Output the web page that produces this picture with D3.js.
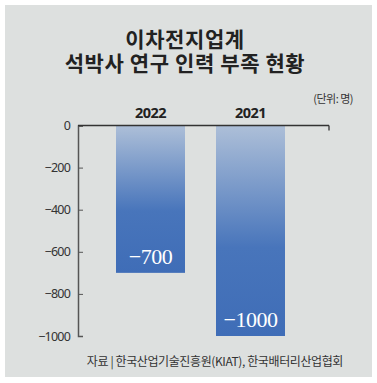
<!DOCTYPE html>
<html>
<head>
<meta charset="utf-8">
<script src="https://cdn.jsdelivr.net/npm/d3@7"></script>
<style>
  body { margin: 0; background: #fff; }
  text { font-family: "Noto Sans CJK KR", "Noto Sans", sans-serif; }
</style>
</head>
<body>
<svg width="377" height="383"></svg>
<script>
// data
var years = ["2022", "2021"];
var shortage = [-700, -1000];
var yTicks = [0, -200, -400, -600, -800, -1000];
var titleLines = ["이차전지업계", "석박사 연구 인력 부족 현황"];

var svg = d3.select("svg"),
  width = +svg.attr("width"),
  height = +svg.attr("height");

// gray panel
svg.append("rect")
  .attr("x", 5).attr("y", 5)
  .attr("width", 367).attr("height", 372)
  .attr("fill", "#dde0df");

// gradient for bars
var grad = svg.append("defs").append("linearGradient")
  .attr("id", "barGrad")
  .attr("x1", 0).attr("y1", 0).attr("x2", 0).attr("y2", 1);
grad.append("stop").attr("offset", "0%").attr("stop-color", "#adbfd8");
grad.append("stop").attr("offset", "58%").attr("stop-color", "#4875bb");
grad.append("stop").attr("offset", "100%").attr("stop-color", "#3f6db7");

// title
svg.append("g").selectAll("text")
  .data(titleLines)
  .enter().append("text")
  .attr("x", 185)
  .attr("y", function(d, i) { return 47 + i * 24; })
  .attr("text-anchor", "middle")
  .attr("font-size", 21)
  .attr("font-weight", "bold")
  .attr("fill", "#222")
  .style("letter-spacing", "0.6px")
  .text(function(d) { return d; });

svg.append("text")
  .attr("x", 353).attr("y", 103)
  .attr("text-anchor", "end")
  .attr("font-size", 11)
  .attr("fill", "#333")
  .style("letter-spacing", "-0.5px")
  .text("(단위: 명)");

// scales
var x = d3.scaleBand()
  .domain(years)
  .range([78, 323])
  .paddingInner(0.31)
  .paddingOuter(0.38);

var y = d3.scaleLinear()
  .domain([0, -1000])
  .range([125.5, 336]);

// y axis
var yAxis = d3.axisRight(y)
  .tickValues(yTicks)
  .tickSize(5)
  .tickFormat(function(d) { return d === 0 ? "0" : "\u2212" + Math.abs(d); });

var ax = svg.append("g")
  .attr("transform", "translate(78,0)")
  .call(yAxis);
ax.select(".domain").attr("stroke", "#555").attr("stroke-width", 1.5);
ax.selectAll(".tick line").attr("stroke", "#555");
ax.selectAll(".tick text")
  .attr("x", -8)
  .attr("text-anchor", "end")
  .attr("font-size", 12.5)
  .attr("fill", "#333")
  .style("font-family", "'Noto Sans', sans-serif")
  .style("letter-spacing", "-0.8px");

// bars
svg.append("g").selectAll("rect")
  .data(shortage)
  .enter().append("rect")
  .attr("x", function(d, i) { return x(years[i]); })
  .attr("y", y(0))
  .attr("width", x.bandwidth())
  .attr("height", function(d) { return y(d) - y(0); })
  .attr("fill", "url(#barGrad)");

// zero line
svg.append("line")
  .attr("x1", 78).attr("x2", 329)
  .attr("y1", y(0)).attr("y2", y(0))
  .attr("stroke", "#333").attr("stroke-width", 1.3);
svg.append("line")
  .attr("x1", 329).attr("x2", 329)
  .attr("y1", y(0)).attr("y2", y(0) + 5)
  .attr("stroke", "#333").attr("stroke-width", 1.3);

// year labels
svg.append("g").selectAll("text")
  .data(years)
  .enter().append("text")
  .attr("x", function(d) { return x(d) + x.bandwidth() / 2; })
  .attr("y", 118)
  .attr("text-anchor", "middle")
  .attr("font-size", 14.5)
  .attr("font-weight", "bold")
  .attr("fill", "#222")
  .style("font-family", "'Noto Sans', sans-serif")
  .style("letter-spacing", "-0.5px")
  .text(function(d) { return d; });

// value labels
svg.append("g").selectAll("text")
  .data(shortage)
  .enter().append("text")
  .attr("x", function(d, i) { return x(years[i]) + x.bandwidth() / 2; })
  .attr("y", function(d) { return y(d) - 9; })
  .attr("text-anchor", "middle")
  .attr("font-size", 22)
  .attr("fill", "#fff")
  .style("font-family", "'Liberation Serif', serif")
  .style("letter-spacing", "-0.5px")
  .text(function(d) { return "\u2212" + Math.abs(d); });

// source
svg.append("text")
  .attr("x", 343).attr("y", 366)
  .attr("text-anchor", "end")
  .attr("font-size", 12)
  .attr("fill", "#333")
  .style("letter-spacing", "-0.4px")
  .text("자료 | 한국산업기술진흥원(KIAT), 한국배터리산업협회");
</script>
</body>
</html>
